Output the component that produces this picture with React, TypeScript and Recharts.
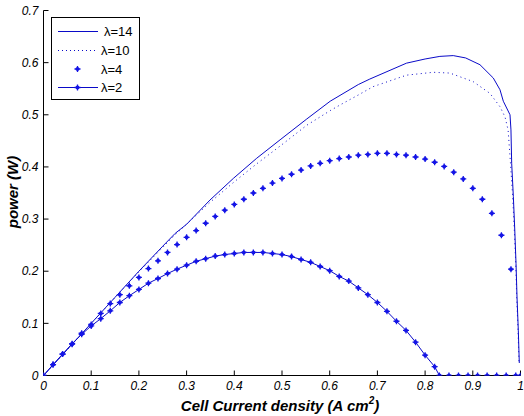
import React from 'react';
import { LineChart, Line, XAxis, YAxis } from 'recharts';

// λ = 14 (solid line)
const lam14X = [0, 0.05, 0.1, 0.15, 0.2, 0.25, 0.276, 0.3, 0.349, 0.398, 0.447, 0.496, 0.552, 0.601, 0.66, 0.684, 0.761, 0.8, 0.831, 0.859, 0.885, 0.915, 0.943, 0.957, 0.964, 0.978, 0.98, 0.9815, 0.985, 0.988, 0.9906, 0.9927, 0.9954, 0.9975];
const lam14P = [0, 0.05, 0.1, 0.15, 0.2, 0.248, 0.2725, 0.29, 0.3365, 0.378, 0.4167, 0.452, 0.492, 0.526, 0.558, 0.5685, 0.599, 0.607, 0.612, 0.6135, 0.609, 0.596, 0.5705, 0.548, 0.526, 0.5, 0.471, 0.407, 0.343, 0.279, 0.215, 0.15, 0.087, 0.024];

// λ = 10 (dotted line)
const lam10X = [0, 0.1, 0.2, 0.276, 0.349, 0.398, 0.447, 0.496, 0.552, 0.601, 0.622, 0.66, 0.691, 0.761, 0.817, 0.852, 0.901, 0.936, 0.957, 0.9675, 0.974, 0.979, 0.9836, 0.987, 0.99, 0.992, 0.9948, 0.997];
const lam10P = [0, 0.1, 0.199, 0.27, 0.332, 0.37, 0.406, 0.44, 0.48, 0.508, 0.519, 0.538, 0.554, 0.576, 0.5815, 0.58, 0.5635, 0.541, 0.5155, 0.496, 0.471, 0.407, 0.343, 0.279, 0.215, 0.151, 0.087, 0.022];

// λ = 4 (markers only)
const lam4X = [0, 0.02, 0.04, 0.06, 0.08, 0.1, 0.12, 0.14, 0.16, 0.18, 0.2, 0.22, 0.24, 0.26, 0.28, 0.3, 0.32, 0.34, 0.36, 0.38, 0.4, 0.42, 0.44, 0.46, 0.48, 0.5, 0.52, 0.54, 0.56, 0.58, 0.6, 0.62, 0.64, 0.66, 0.68, 0.7, 0.72, 0.74, 0.76, 0.78, 0.8, 0.82, 0.84, 0.86, 0.88, 0.9, 0.92, 0.94, 0.96, 0.98, 1];
const lam4P = [0, 0.021, 0.041, 0.06, 0.081, 0.098, 0.119, 0.138, 0.155, 0.172, 0.188, 0.205, 0.22, 0.236, 0.251, 0.265, 0.278, 0.292, 0.305, 0.317, 0.328, 0.338, 0.35, 0.359, 0.369, 0.378, 0.386, 0.394, 0.402, 0.407, 0.412, 0.416, 0.419, 0.4225, 0.424, 0.426, 0.426, 0.424, 0.4225, 0.419, 0.415, 0.409, 0.401, 0.39, 0.377, 0.359, 0.338, 0.311, 0.269, 0.204, 0];

// λ = 2 (line with markers)
const lam2X = [0, 0.02, 0.04, 0.06, 0.08, 0.1, 0.12, 0.14, 0.16, 0.18, 0.2, 0.22, 0.24, 0.26, 0.28, 0.3, 0.32, 0.34, 0.36, 0.38, 0.4, 0.42, 0.44, 0.46, 0.48, 0.5, 0.52, 0.54, 0.56, 0.58, 0.6, 0.62, 0.64, 0.66, 0.68, 0.7, 0.72, 0.74, 0.76, 0.78, 0.8, 0.82, 0.83, 0.85, 0.87, 0.89, 0.91, 0.93, 0.95, 0.97, 0.99];
const lam2P = [0, 0.021, 0.041, 0.061, 0.079, 0.095, 0.109, 0.124, 0.14, 0.153, 0.165, 0.177, 0.186, 0.1955, 0.204, 0.2115, 0.219, 0.224, 0.229, 0.232, 0.234, 0.236, 0.236, 0.236, 0.234, 0.232, 0.228, 0.2225, 0.217, 0.209, 0.201, 0.19, 0.181, 0.168, 0.155, 0.14, 0.123, 0.104, 0.0865, 0.064, 0.039, 0.017, 0, 0, 0, 0, 0, 0, 0, 0, 0];

const xTicks = [0, 0.1, 0.2, 0.3, 0.4, 0.5, 0.6, 0.7, 0.8, 0.9, 1];
const yTicks = [0, 0.1, 0.2, 0.3, 0.4, 0.5, 0.6, 0.7];

const legendLabels = ['λ=14', 'λ=10', 'λ=4', 'λ=2'];

const toRows = (xs: number[], ps: number[]) => xs.map((x, i) => ({ x, p: ps[i] }));

const lineColor = '#0a0ac8';
const markerColor = '#1414e6';
const font = '"Liberation Sans", Arial, Helvetica, sans-serif';

const Star = ({ cx, cy }: { cx: number; cy: number }) => (
  <g>
    <path d={`M${cx - 3},${cy} L${cx + 3},${cy} M${cx},${cy - 3} L${cx},${cy + 3}`} stroke={markerColor} strokeWidth={1.3} />
    <circle cx={cx} cy={cy} r={2} fill={markerColor} />
  </g>
);

const renderDot = (props: any) => {
  const { cx, cy, index } = props;
  if (cx == null || cy == null) return <g key={index} />;
  return <Star key={index} cx={cx} cy={cy} />;
};

const tickStyle = { fontSize: 12, fontStyle: 'italic', fill: '#000', fontFamily: font };

export default function App() {
  return (
    <div style={{ width: 524, height: 416, background: '#fff' }}>
      <style>{'body{margin:0;background:#fff;overflow:hidden;}'}</style>
      <LineChart
        width={524}
        height={416}
        margin={{ top: 10.5, right: 3.5, bottom: 0, left: 0.5 }}
        style={{ fontFamily: font }}
      >
        <XAxis
          xAxisId="b"
          dataKey="x"
          type="number"
          domain={[0, 1]}
          ticks={xTicks}
          tickFormatter={(v: number) => String(v)}
          height={40.5}
          tickSize={-5}
          tickMargin={11}
          stroke="#000"
          tick={tickStyle}
          allowDataOverflow
        />
        <XAxis
          xAxisId="t"
          orientation="top"
          dataKey="x"
          type="number"
          domain={[0, 1]}
          ticks={xTicks}
          tickFormatter={() => ''}
          height={0}
          tickSize={-5}
          stroke="#000"
          allowDataOverflow
        />
        <YAxis
          yAxisId="l"
          type="number"
          domain={[0, 0.7]}
          ticks={yTicks}
          tickFormatter={(v: number) => String(v)}
          width={43}
          tickSize={-5}
          tickMargin={10}
          stroke="#000"
          tick={tickStyle}
          allowDataOverflow
        />
        <YAxis
          yAxisId="r"
          orientation="right"
          type="number"
          domain={[0, 0.7]}
          ticks={yTicks}
          tickFormatter={() => ''}
          width={0}
          tickSize={-5}
          axisLine={false}
          stroke="#000"
          allowDataOverflow
        />
        <Line
          xAxisId="b"
          yAxisId="l"
          data={toRows(lam14X, lam14P)}
          dataKey="p"
          type="linear"
          stroke={lineColor}
          strokeWidth={1}
          dot={false}
          activeDot={false}
          isAnimationActive={false}
        />
        <Line
          xAxisId="b"
          yAxisId="l"
          data={toRows(lam10X, lam10P)}
          dataKey="p"
          type="linear"
          stroke={lineColor}
          strokeWidth={1}
          strokeDasharray="1 3.5"
          dot={false}
          activeDot={false}
          isAnimationActive={false}
        />
        <Line
          xAxisId="b"
          yAxisId="l"
          data={toRows(lam4X, lam4P)}
          dataKey="p"
          type="linear"
          stroke="none"
          dot={renderDot}
          activeDot={false}
          isAnimationActive={false}
        />
        <Line
          xAxisId="b"
          yAxisId="l"
          data={toRows(lam2X, lam2P)}
          dataKey="p"
          type="linear"
          stroke={lineColor}
          strokeWidth={1}
          dot={renderDot}
          activeDot={false}
          isAnimationActive={false}
        />

        {/* axis titles */}
        <text x={280} y={411} textAnchor="middle" fontFamily={font} fontSize={15} fontWeight="bold" fontStyle="italic" fill="#000">
          Cell Current density (A cm<tspan fontSize={10} dy={-7}>2</tspan><tspan dy={7}>)</tspan>
        </text>
        <text x={18} y={192} transform="rotate(-90 18 192)" textAnchor="middle" fontFamily={font} fontSize={15} fontWeight="bold" fontStyle="italic" fill="#000">
          power (W)
        </text>

        {/* legend */}
        <g>
          <rect x={51.5} y={17.5} width={88} height={82} fill="#fff" stroke="#000" strokeWidth={1} />
          <line x1={58} x2={98} y1={31.5} y2={31.5} stroke={lineColor} strokeWidth={1} />
          <line x1={58} x2={98} y1={50.5} y2={50.5} stroke={lineColor} strokeWidth={1} strokeDasharray="1 3" />
          <Star cx={77.5} cy={69} />
          <line x1={58} x2={98} y1={87.5} y2={87.5} stroke={lineColor} strokeWidth={1} />
          <Star cx={77.5} cy={87.5} />
          {legendLabels.map((s, i) => (
            <text key={s} x={i === 0 ? 104 : 101} y={[36, 55, 73.5, 92][i]} fontFamily={font} fontSize={13} fill="#000">
              {s}
            </text>
          ))}
        </g>
      </LineChart>
    </div>
  );
}
